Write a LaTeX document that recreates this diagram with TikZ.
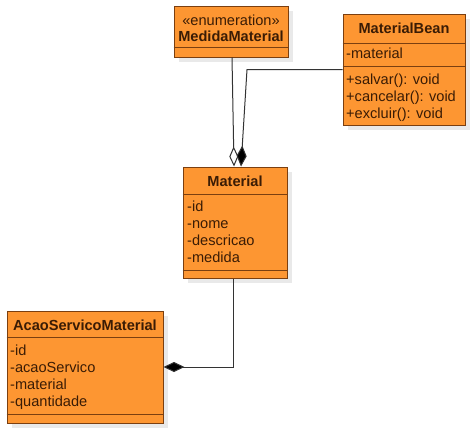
\documentclass[tikz,border=0pt]{standalone}
\usepackage{fontspec}
\setmainfont{Liberation Sans}
\usetikzlibrary{arrows.meta,calc}
\definecolor{boxfill}{HTML}{FD9632}
\definecolor{boxline}{HTML}{7B3F10}
\definecolor{txt}{HTML}{3A1C05}
\definecolor{shadowc}{HTML}{E9E9E9}
\definecolor{wire}{HTML}{333333}
\tikzset{
  classbox/.style={draw=boxline, fill=boxfill, line width=1pt, inner sep=0pt},
  shadowbox/.style={fill=shadowc, draw=none, inner sep=0pt},
  ttl/.style={anchor=base, inner sep=0pt, text=txt, font=\fontsize{14.6}{17}\selectfont\bfseries},
  stereo/.style={anchor=base, inner sep=0pt, text=txt, font=\fontsize{14.6}{17}\selectfont},
  item/.style={anchor=base west, inner sep=0pt, text=txt, font=\fontsize{14.6}{17}\selectfont},
  divider/.style={draw=boxline, line width=1pt},
  wirestyle/.style={draw=wire, line width=1pt},
  filledtip/.style={-{Diamond[length=21pt,width=10pt,fill=black]}},
  opentip/.style={-{Diamond[length=20pt,width=9pt,open]}}
}
\newcommand{\classbox}[5]{% name, cx, cy, w, h
  \node[shadowbox, minimum width=#4pt, minimum height=#5pt] at (#2+5,#3+5) {};
  \node[classbox, minimum width=#4pt, minimum height=#5pt] (#1) at (#2,#3) {};
}
\begin{document}
\begin{tikzpicture}[x=1pt,y=-1pt]
\useasboundingbox (0,0) rectangle (474,431);
\fill[white] (0,0) rectangle (474,431);

% MedidaMaterial
\classbox{med}{231}{31.5}{114}{51}
\draw[divider] (med.west |- 0,47) -- (med.east |- 0,47);
\node[stereo] (medst) at (231,25) {«enumeration»};
\node[ttl] (medt) at (231,41) {MedidaMaterial};

% MaterialBean
\classbox{bean}{404}{69.5}{122}{111}
\draw[divider] (bean.west |- 0,43) -- (bean.east |- 0,43);
\draw[divider] (bean.west |- 0,66) -- (bean.east |- 0,66);
\node[ttl] (beant) at (404,34) {MaterialBean};
\node[item] (beana) at (346,58) {-material};
\node[item] (beanm1) at (346,84) {+salvar(): void};
\node[item] (beanm2) at (346,101) {+cancelar(): void};
\node[item] (beanm3) at (346,118) {+excluir(): void};

% Material
\classbox{mat}{235}{222.5}{104}{111}
\draw[divider] (mat.west |- 0,194) -- (mat.east |- 0,194);
\draw[divider] (mat.west |- 0,270) -- (mat.east |- 0,270);
\node[ttl] (matt) at (235,186) {Material};
\node[item] (mata1) at (187,211) {-id};
\node[item] (mata2) at (187,228) {-nome};
\node[item] (mata3) at (187,245) {-descricao};
\node[item] (mata4) at (187,262) {-medida};

% AcaoServicoMaterial
\classbox{acao}{85}{367}{156}{112}
\draw[divider] (acao.west |- 0,337) -- (acao.east |- 0,337);
\draw[divider] (acao.west |- 0,414) -- (acao.east |- 0,414);
\node[ttl] (acaot) at (85,330) {AcaoServicoMaterial};
\node[item] (acaoa1) at (10,355) {-id};
\node[item] (acaoa2) at (10,372) {-acaoServico};
\node[item] (acaoa3) at (10,389) {-material};
\node[item] (acaoa4) at (10,406) {-quantidade};

% connectors
\draw[wirestyle, opentip] ([xshift=1pt]med.south) -- ([xshift=-1pt]mat.north);
\coordinate (bend) at (247,69.5);
\draw[wirestyle, filledtip] (bean.west) -- (bend) -- ([xshift=6pt]mat.north);
\draw[wirestyle, filledtip] ([xshift=-2pt]mat.south) |- (acao.east);
\end{tikzpicture}
\end{document}
